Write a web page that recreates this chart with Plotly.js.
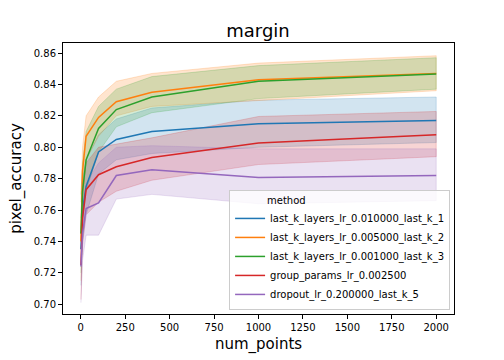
<!DOCTYPE html>
<html>
<head>
<meta charset="utf-8">
<script src="https://cdn.plot.ly/plotly-3.0.1.min.js"></script>
<style>
  html, body { margin: 0; padding: 0; background: #fff; }
  #chart { width: 504px; height: 360px; }
</style>
</head>
<body>
<div id="chart"></div>
<script>
// num_points sampled
var numPoints = [1, 10, 30, 100, 200, 400, 1000, 2000];

var methods = [
    'last_k_layers_lr_0.010000_last_k_1',
    'last_k_layers_lr_0.005000_last_k_2',
    'last_k_layers_lr_0.001000_last_k_3',
    'group_params_lr_0.002500',
    'dropout_lr_0.200000_last_k_5'
];

// mean pixel_accuracy per method
var meanK1 = [0.735, 0.760, 0.775, 0.797, 0.805, 0.810, 0.815, 0.817];
var meanK2 = [0.740, 0.785, 0.807, 0.819, 0.829, 0.835, 0.843, 0.847];
var meanK3 = [0.745, 0.772, 0.792, 0.812, 0.824, 0.832, 0.842, 0.8466];
var meanGroup = [0.725, 0.755, 0.773, 0.7825, 0.7876, 0.7935, 0.8027, 0.808];
var meanDropout = [0.724, 0.745, 0.761, 0.7645, 0.782, 0.7857, 0.7808, 0.782];

// confidence band edges
var upperK1 = [0.755, 0.780, 0.792, 0.808, 0.818, 0.825, 0.830, 0.832];
var lowerK1 = [0.712, 0.740, 0.757, 0.783, 0.792, 0.796, 0.800, 0.803];
var upperK2 = [0.765, 0.800, 0.820, 0.832, 0.842, 0.847, 0.8536, 0.8583];
var lowerK2 = [0.715, 0.765, 0.792, 0.807, 0.820, 0.826, 0.830, 0.836];
var upperK3 = [0.770, 0.790, 0.810, 0.826, 0.837, 0.845, 0.852, 0.857];
var lowerK3 = [0.720, 0.752, 0.772, 0.797, 0.813, 0.822, 0.831, 0.837];
var upperGroup = [0.745, 0.772, 0.790, 0.800, 0.802, 0.806, 0.8196, 0.8228];
var lowerGroup = [0.703, 0.738, 0.757, 0.765, 0.772, 0.779, 0.789, 0.794];
var upperDropout = [0.745, 0.762, 0.777, 0.790, 0.800, 0.801, 0.799, 0.799];
var lowerDropout = [0.701, 0.728, 0.744, 0.744, 0.767, 0.770, 0.764, 0.766];

var means = [meanK1, meanK2, meanK3, meanGroup, meanDropout];
var uppers = [upperK1, upperK2, upperK3, upperGroup, upperDropout];
var lowers = [lowerK1, lowerK2, lowerK3, lowerGroup, lowerDropout];
var colors = [[31, 119, 180], [255, 127, 14], [44, 160, 44], [214, 39, 40], [148, 103, 189]];

function rgba(c, a) {
    return 'rgba(' + c[0] + ',' + c[1] + ',' + c[2] + ',' + a + ')';
}

var data = [];

// bands first so lines sit on top
for (var i = 0; i < methods.length; i++) {
    var xs = numPoints.concat(numPoints.slice().reverse());
    var ys = uppers[i].concat(lowers[i].slice().reverse());
    data.push({
        x: xs,
        y: ys,
        type: 'scatter',
        mode: 'lines',
        fill: 'toself',
        fillcolor: rgba(colors[i], 0.2),
        line: {color: rgba(colors[i], 0.25), width: 0.8},
        hoverinfo: 'skip',
        showlegend: false
    });
}

for (var j = 0; j < methods.length; j++) {
    data.push({
        x: numPoints,
        y: means[j],
        type: 'scatter',
        mode: 'lines',
        name: methods[j],
        line: {color: rgba(colors[j], 1), width: 1.5}
    });
}

var axisStyle = {
    showgrid: false,
    zeroline: false,
    showline: true,
    mirror: true,
    linecolor: '#000',
    linewidth: 1,
    ticks: 'outside',
    ticklen: 4,
    tickwidth: 1,
    tickcolor: '#000',
    tickfont: {family: 'DejaVu Sans', size: 10, color: '#000'}
};

var layout = {
    width: 504,
    height: 360,
    paper_bgcolor: '#fff',
    plot_bgcolor: '#fff',
    margin: {l: 63, r: 50, t: 43, b: 46},
    font: {family: 'DejaVu Sans', color: '#000'},
    title: {
        text: 'margin',
        font: {family: 'DejaVu Sans', size: 18, color: '#000'},
        x: 0.512,
        xanchor: 'center',
        y: 0.915,
        yanchor: 'middle'
    },
    xaxis: Object.assign({}, axisStyle, {
        range: [-100, 2100],
        tickvals: [0, 250, 500, 750, 1000, 1250, 1500, 1750, 2000],
        title: {text: 'num_points', font: {family: 'DejaVu Sans', size: 15, color: '#000'}, standoff: 6}
    }),
    yaxis: Object.assign({}, axisStyle, {
        range: [0.6938, 0.8664],
        tickvals: [0.70, 0.72, 0.74, 0.76, 0.78, 0.80, 0.82, 0.84, 0.86],
        tickformat: '.2f',
        title: {text: 'pixel_accuracy', font: {family: 'DejaVu Sans', size: 15, color: '#000'}, standoff: 8}
    }),
    legend: {
        x: 0.99,
        y: 0.015,
        xanchor: 'right',
        yanchor: 'bottom',
        bgcolor: 'rgba(255,255,255,0.8)',
        bordercolor: '#ccc',
        borderwidth: 1,
        font: {family: 'DejaVu Sans', size: 10, color: '#000'},
        title: {
            text: '\u00a0\u00a0\u00a0\u00a0\u00a0\u00a0\u00a0\u00a0\u00a0\u00a0\u00a0method',
            font: {family: 'DejaVu Sans', size: 10, color: '#000'},
            side: 'top'
        },
        tracegroupgap: 0
    },
    showlegend: true
};

Plotly.newPlot('chart', data, layout, {displayModeBar: false, staticPlot: true});
</script>
</body>
</html>
